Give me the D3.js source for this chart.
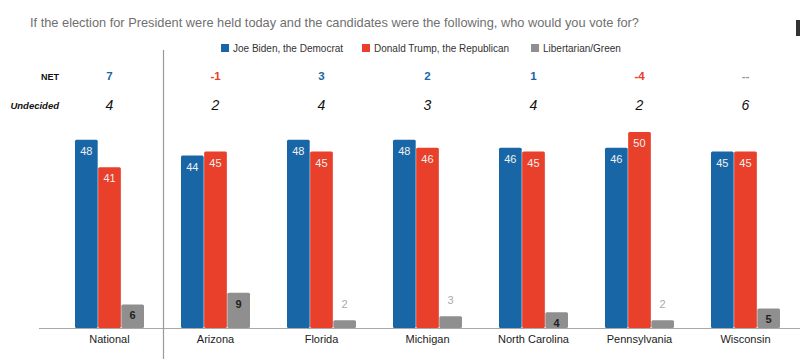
<!DOCTYPE html>
<html>
<head>
<meta charset="utf-8">
<script src="https://cdn.jsdelivr.net/npm/d3@7"></script>
<style>
  body { margin: 0; background: #fff; }
  svg { display: block; font-family: "Liberation Sans", Arial, sans-serif; }
</style>
</head>
<body>
<div id="chart"></div>
<script>
// data
const regions = ["National", "Arizona", "Florida", "Michigan", "North Carolina", "Pennsylvania", "Wisconsin"];
const biden = [48, 44, 48, 48, 46, 46, 45];
const trump = [41, 45, 45, 46, 45, 50, 45];
const other = [6, 9, 2, 3, 4, 2, 5];
const netLabels = ["7", "-1", "3", "2", "1", "-4", "--"];
const undecided = [4, 2, 4, 3, 4, 2, 6];
const seriesNames = ["Joe Biden, the Democrat", "Donald Trump, the Republican", "Libertarian/Green"];

const colors = ["#1866a6", "#e8402a", "#8f8f8f"];

const width = 800, height = 359;
const baseY = 328;

const svg = d3.select("#chart").append("svg")
    .attr("width", width)
    .attr("height", height);

// title
svg.append("text")
    .attr("x", 30)
    .attr("y", 27)
    .attr("font-size", "12.8px")
    .attr("fill", "#6f6f6f")
    .text("If the election for President were held today and the candidates were the following, who would you vote for?");

// little screen edge at the right
svg.append("rect")
    .attr("x", 796).attr("y", 20)
    .attr("width", 4).attr("height", 16)
    .attr("fill", "#333");

// legend
const legendX = [221, 362, 531];
const legend = svg.selectAll(".legend")
    .data(seriesNames)
    .enter().append("g")
    .attr("class", "legend")
    .attr("transform", (d, i) => `translate(${legendX[i]}, 48)`);

legend.append("rect")
    .attr("x", 0).attr("y", -4)
    .attr("width", 8).attr("height", 8)
    .attr("fill", (d, i) => colors[i]);

legend.append("text")
    .attr("x", 12)
    .attr("y", 3.5)
    .attr("font-size", "10px")
    .attr("fill", "#333")
    .text(d => d);

// scales
const x = d3.scaleBand()
    .domain(regions)
    .range([75, 780])
    .paddingInner(0.349)
    .paddingOuter(0);

const xs = d3.scaleBand()
    .domain([0, 1, 2])
    .range([0, x.bandwidth()])
    .paddingInner(0.02);

const y = d3.scaleLinear()
    .domain([0, 50])
    .range([baseY, baseY - 196]);

// NET / Undecided rows
svg.append("text")
    .attr("x", 59).attr("y", 80)
    .attr("text-anchor", "end")
    .attr("font-size", "9px")
    .attr("font-weight", "bold")
    .attr("fill", "#111")
    .text("NET");

svg.append("text")
    .attr("x", 59).attr("y", 109)
    .attr("text-anchor", "end")
    .attr("font-size", "9.5px")
    .attr("font-weight", "bold")
    .attr("font-style", "italic")
    .attr("fill", "#111")
    .text("Undecided");

svg.selectAll(".net")
    .data(netLabels)
    .enter().append("text")
    .attr("class", "net")
    .attr("x", (d, i) => x(regions[i]) + x.bandwidth() / 2)
    .attr("y", 80)
    .attr("text-anchor", "middle")
    .attr("font-size", "11.5px")
    .attr("font-weight", "bold")
    .attr("fill", d => d === "--" ? "#999" : (d.startsWith("-") ? "#e8402a" : "#1866a6"))
    .text(d => d);

svg.selectAll(".und")
    .data(undecided)
    .enter().append("text")
    .attr("class", "und")
    .attr("x", (d, i) => x(regions[i]) + x.bandwidth() / 2)
    .attr("y", 110)
    .attr("text-anchor", "middle")
    .attr("font-size", "14px")
    .attr("font-style", "italic")
    .attr("fill", "#111")
    .text(d => d);

// bars
const rows = regions.map((r, i) => ({ region: r, values: [biden[i], trump[i], other[i]] }));

const groups = svg.selectAll(".group")
    .data(rows)
    .enter().append("g")
    .attr("class", "group")
    .attr("transform", d => `translate(${x(d.region)}, 0)`);

groups.selectAll("rect")
    .data(d => d.values)
    .enter().append("rect")
    .attr("x", (d, i) => xs(i))
    .attr("y", d => y(d))
    .attr("width", xs.bandwidth())
    .attr("height", d => baseY - y(d))
    .attr("rx", 1.5)
    .attr("fill", (d, i) => colors[i]);

// value labels
groups.selectAll(".val")
    .data(d => d.values)
    .enter().append("text")
    .attr("class", "val")
    .attr("x", (d, i) => xs(i) + xs.bandwidth() / 2)
    .attr("y", (d, i) => (i === 2 && d < 4) ? y(d) - 12 : y(d) + 15)
    .attr("text-anchor", "middle")
    .attr("font-size", "11px")
    .attr("font-weight", (d, i) => i === 2 && d >= 4 ? "bold" : "normal")
    .attr("fill", (d, i) => i < 2 ? "#f0f0f0" : (d < 4 ? "#aaa" : "#222"))
    .text(d => d);

// baseline
svg.append("line")
    .attr("x1", 39).attr("x2", 800)
    .attr("y1", baseY + 0.5).attr("y2", baseY + 0.5)
    .attr("stroke", "#a8a8a8")
    .attr("stroke-width", 1.2);

// separator between National and states
svg.append("line")
    .attr("x1", 163.5).attr("x2", 163.5)
    .attr("y1", 50).attr("y2", height)
    .attr("stroke", "#999")
    .attr("stroke-width", 1.2);

// category labels
svg.selectAll(".cat")
    .data(regions)
    .enter().append("text")
    .attr("class", "cat")
    .attr("x", d => x(d) + x.bandwidth() / 2)
    .attr("y", 343)
    .attr("text-anchor", "middle")
    .attr("font-size", "11px")
    .attr("fill", "#222")
    .text(d => d);
</script>
</body>
</html>
